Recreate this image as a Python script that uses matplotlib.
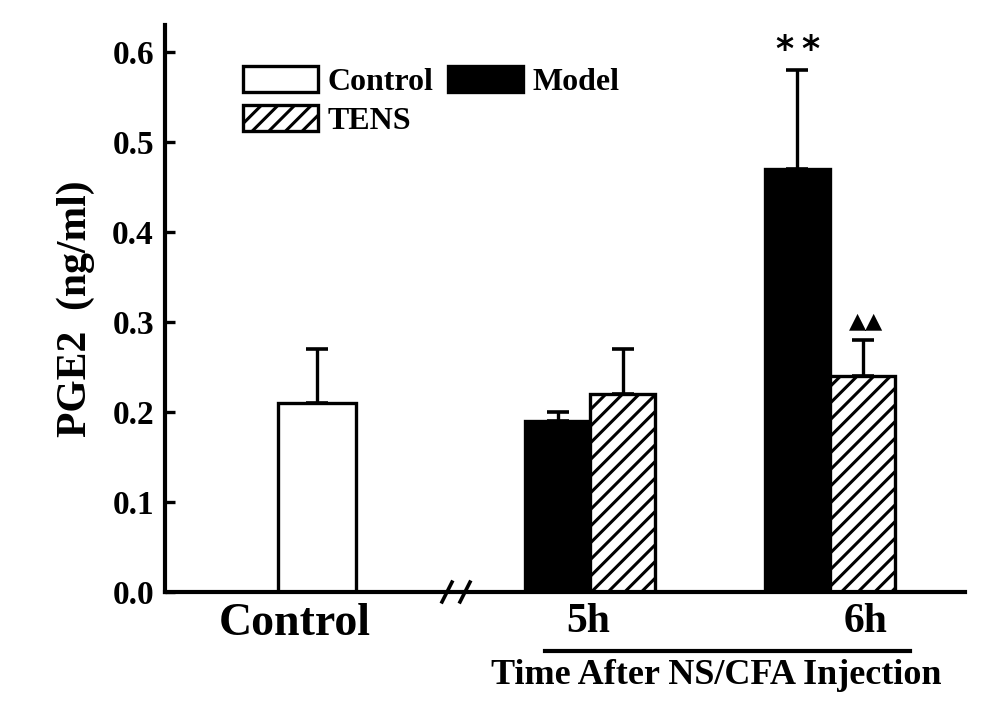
import matplotlib
matplotlib.use("Agg")
import matplotlib.pyplot as plt
import matplotlib.transforms as mtransforms
from matplotlib.patches import Patch
import numpy as np

plt.rcParams['font.family'] = ['Liberation Serif', 'DejaVu Sans']
plt.rcParams['font.weight'] = 'bold'
plt.rcParams['axes.labelweight'] = 'bold'
plt.rcParams['hatch.linewidth'] = 2.2

# data
group_labels = ['Control', '5h', '6h']
control_mean = [0.21]
control_err = [0.06]
model_mean = [0.19, 0.47]
model_err = [0.01, 0.11]
tens_mean = [0.22, 0.24]
tens_err = [0.05, 0.04]
model_marks = ['', '**']
tens_marks = ['', '\u25b2\u25b2']

# layout (x axis in arbitrary units, axis break between control and time groups)
ctrl_x = np.array([1.52])
group_x = np.array([4.25, 6.65])
bw_ctrl = 0.78
bw = 0.65
label_x = [1.30, 4.23, 7.01]

fig = plt.figure(figsize=(10.03, 7.07), dpi=100)
ax = fig.add_axes([165/1003, 1-592/707, 800/1003, 567/707])

lw = 2.4
err_kw = dict(ecolor='black', elinewidth=2.4, capsize=8, capthick=2.6)

ax.bar(ctrl_x, control_mean, bw_ctrl, color='white', edgecolor='black', linewidth=lw,
       yerr=[[0]*len(control_err), control_err], error_kw=err_kw, zorder=2)
mx = group_x - bw/2
tx = group_x + bw/2
ax.bar(mx, model_mean, bw, color='black', edgecolor='black', linewidth=lw,
       yerr=[[0]*len(model_err), model_err], error_kw=err_kw, zorder=2)
ax.bar(tx, tens_mean, bw, color='white', edgecolor='black', linewidth=lw, hatch='//',
       yerr=[[0]*len(tens_err), tens_err], error_kw=err_kw, zorder=2)

# significance marks
for x, m, e, s in zip(mx, model_mean, model_err, model_marks):
    if s:
        for k, ch in enumerate(s):
            ax.text(x + (k - (len(s)-1)/2) * 0.26, m + e + 0.022, ch, ha='center',
                    va='center', fontsize=25, family='DejaVu Sans', fontweight='bold')
for x, m, e, s in zip(tx, tens_mean, tens_err, tens_marks):
    if s:
        ax.text(x + 0.035, m + e + 0.021, s, ha='center', va='center', fontsize=16,
                family='DejaVu Sans')

ax.set_xlim(0, 8)
ax.set_ylim(0, 0.63)
ax.set_yticks(np.arange(0, 0.61, 0.1))
ax.set_yticklabels([f'{v:.1f}' for v in np.arange(0, 0.61, 0.1)])
ax.set_xticks(label_x)
ax.set_xticklabels(group_labels)
ax.tick_params(axis='x', length=0, pad=8, labelsize=30)
ax.get_xticklabels()[0].set_fontsize(33)
ax.tick_params(axis='y', direction='in', length=7, width=2.4, labelsize=24, pad=8)
for s in ['top', 'right']:
    ax.spines[s].set_visible(False)
for s in ['left', 'bottom']:
    ax.spines[s].set_linewidth(3)

ax.set_ylabel('PGE2  (ng/ml)', fontsize=30, labelpad=12)

# axis break marks
for bx in [2.82, 3.0]:
    ax.plot([bx - 0.05, bx + 0.05], [-0.011, 0.011], color='black', lw=2.6,
            clip_on=False, zorder=5)

# time group underline and caption
trans = mtransforms.blended_transform_factory(ax.transData, fig.transFigure)
ax.plot([3.80, 7.45], [1-651/707, 1-651/707], color='black', lw=3,
        transform=trans, clip_on=False)
ax.text(5.51, 1-676/707, 'Time After NS/CFA Injection', transform=trans,
        ha='center', va='center', fontsize=26)

handles = [Patch(facecolor='white', edgecolor='black', linewidth=lw, label='Control'),
           Patch(facecolor='white', edgecolor='black', linewidth=lw, hatch='//', label='TENS'),
           Patch(facecolor='black', edgecolor='black', linewidth=lw, label='Model')]
fig.legend(handles=handles, loc='upper left', bbox_to_anchor=(243/1003, 1-66/707),
           ncol=2, frameon=False, fontsize=23, handlelength=2.35, handleheight=0.88,
           handletextpad=0.3, columnspacing=0.45, labelspacing=0.25,
           borderpad=0, borderaxespad=0)

fig.savefig('out.png', dpi=100)
